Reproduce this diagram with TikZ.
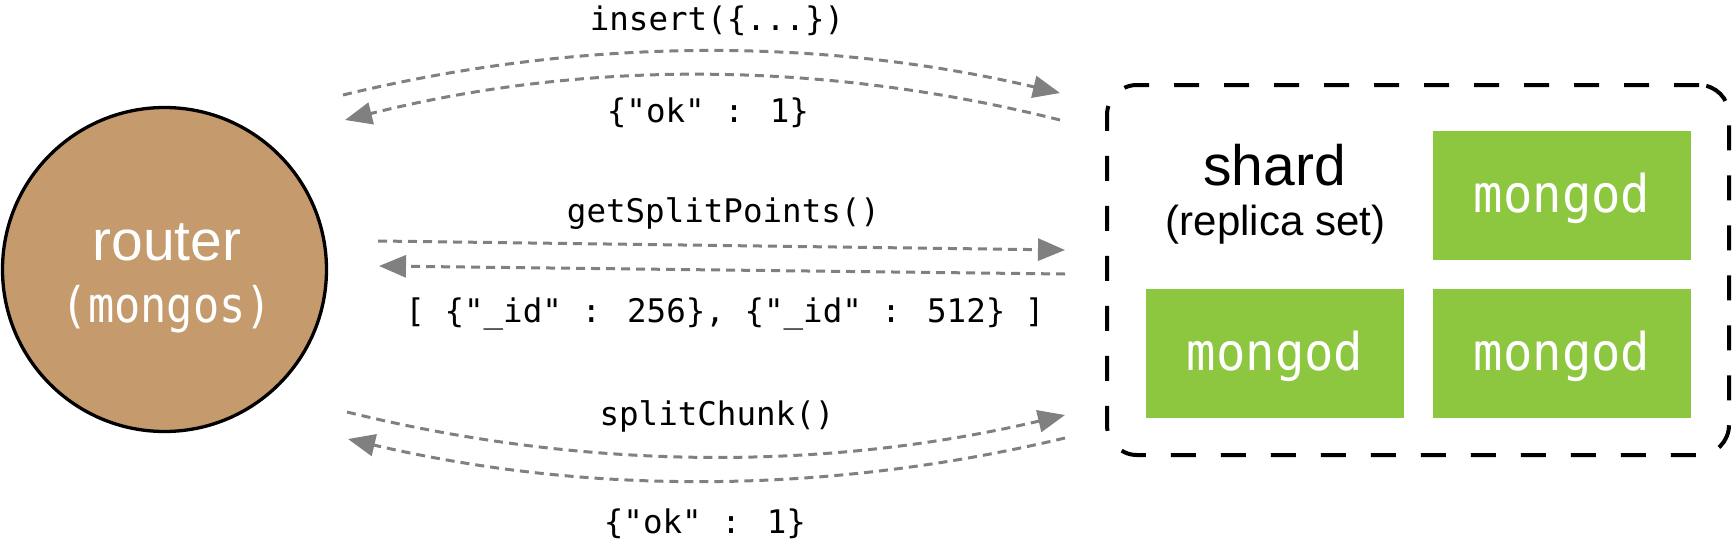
\documentclass[tikz,border=0pt]{standalone}
\usepackage{fontspec}
\setmainfont{Liberation Sans}
\newfontfamily\codefont{DejaVu Sans Mono}
\newfontfamily\codecond[FakeStretch=0.89]{DejaVu Sans Mono}
\newfontfamily\codebox[FakeStretch=0.94]{DejaVu Sans Mono}
\usetikzlibrary{arrows.meta}
\definecolor{routerfill}{RGB}{197,154,108}
\definecolor{mgreen}{RGB}{141,198,63}
\definecolor{arrowgray}{RGB}{128,128,128}
\begin{document}
\begin{tikzpicture}[x=1pt,y=-1pt,
  msg/.style={draw=arrowgray, line width=3pt, dash pattern=on 9pt off 6pt,
    -{Triangle[length=27pt,width=22pt]}},
  code/.style={anchor=base, inner sep=0pt, font=\codefont\fontsize{32.5}{39}\selectfont},
  mbox/.style={fill=mgreen, minimum width=258pt, minimum height=129pt, inner sep=0pt,
    text=white, font=\codebox\fontsize{52}{62}\selectfont, text height=41pt, text depth=8pt},
  lbl/.style={anchor=base, inner sep=0pt},
]
\useasboundingbox (0,0) rectangle (1734,546);

% router
\node[circle, draw=black, line width=3.3pt, fill=routerfill, minimum size=324pt, inner sep=0pt]
  (router) at (164.5,269.5) {};
\node[lbl, text=white, font=\fontsize{57}{68}\selectfont] (rlabel) at (167,260) {router};
\node[lbl, text=white, font=\codecond\fontsize{49}{58}\selectfont] (rsub) at (167,322) {(mongos)};

% shard
\node[draw=black, line width=4pt, dash pattern=on 25pt off 25pt, rounded corners=30pt,
  minimum width=622pt, minimum height=370pt, inner sep=0pt] (shard) at (1418,270) {};
\node[lbl, font=\fontsize{57}{68}\selectfont] (shardlbl) at (1274.5,185) {shard};
\node[lbl, font=\fontsize{42}{50}\selectfont] (shardsub) at (1275.5,235) {(replica set)};
\node[mbox] (m1) at (1562,195.5) {mongod};
\node[mbox] (m2) at (1275,353.5) {mongod};
\node[mbox] (m3) at (1562,353.5) {mongod};

% connector end points
\coordinate (a1s) at (343,95);
\coordinate (a1e) at (1060,93);
\coordinate (r1s) at (1060,120);
\coordinate (r1e) at (345,120);
\coordinate (a2s) at (378,241);
\coordinate (a2e) at (1065,250);
\coordinate (r2s) at (1065,274);
\coordinate (r2e) at (379,266);
\coordinate (a3s) at (347,412);
\coordinate (a3e) at (1065,415);
\coordinate (r3s) at (1065,438);
\coordinate (r3e) at (348,439);

\draw[msg] (a1s) .. controls +(239,-58) and +(-239,-56) .. (a1e);
\draw[msg] (r1s) .. controls +(-239,-60) and +(239,-60) .. (r1e);
\draw[msg] (a2s) -- (a2e);
\draw[msg] (r2s) -- (r2e);
\draw[msg] (a3s) .. controls +(239,59) and +(-239,56) .. (a3e);
\draw[msg] (r3s) .. controls +(-239,57) and +(239,56) .. (r3e);

% message labels
\node[code] (t1) at (717,30) {insert(\{...\})};
\node[code] (t2) at (708,122) {\{"ok" : 1\}};
\node[code] (t3) at (723.5,222) {getSplitPoints()};
\node[code] (t4) at (725,322) {[ \{"\_id" : 256\}, \{"\_id" : 512\} ]};
\node[code] (t5) at (717,425) {splitChunk()};
\node[code] (t6) at (705,533) {\{"ok" : 1\}};
\end{tikzpicture}
\end{document}
